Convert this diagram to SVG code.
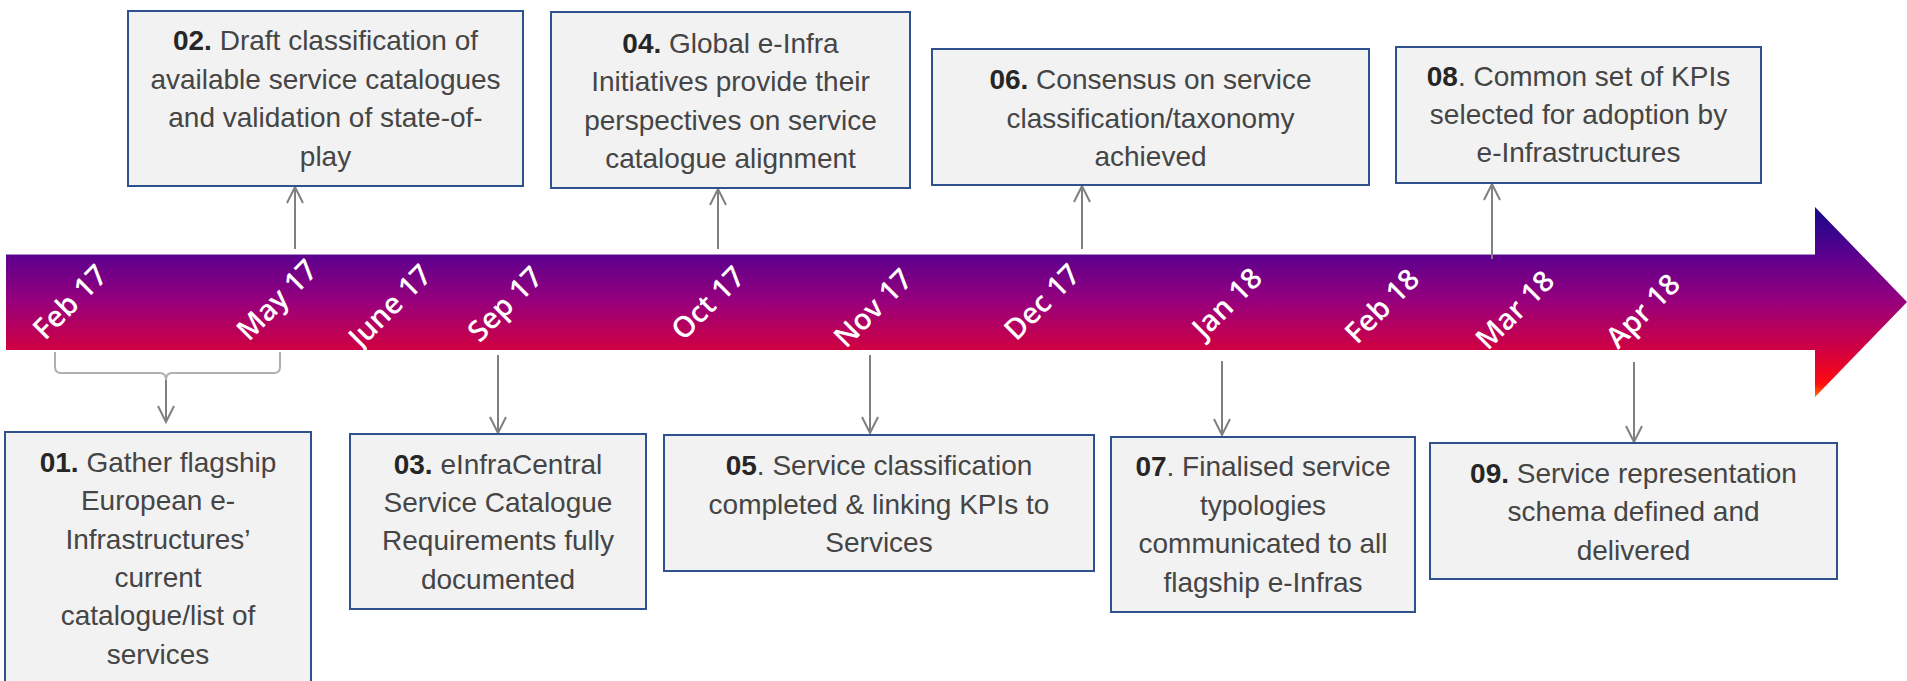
<svg xmlns="http://www.w3.org/2000/svg" width="1907" height="681" viewBox="0 0 1907 681">
  <style>
    .box { fill: #f2f2f2; stroke: #2f528f; stroke-width: 2; }
    .txt { font-family: "Liberation Sans", Arial, sans-serif; font-size: 28px; fill: #454545; text-anchor: middle; }
    .num { font-weight: bold; fill: #262626; }
    .date { font-family: "Open Sans", "Noto Sans", sans-serif; font-size: 29px; font-weight: 600; fill: #ffffff; text-anchor: middle; }
    .conn { stroke: #808080; stroke-width: 2; fill: none; }
    .brace { stroke: #b0b0b0; stroke-width: 2; fill: none; }
  </style>
  <defs>
    <linearGradient id="timelineFill" gradientUnits="userSpaceOnUse" x1="0" y1="207" x2="0" y2="397">
      <stop offset="0" stop-color="#140a8a"/>
      <stop offset="0.247" stop-color="#5a008e"/>
      <stop offset="0.5" stop-color="#98007c"/>
      <stop offset="0.75" stop-color="#d00042"/>
      <stop offset="0.93" stop-color="#ff0a10"/>
      <stop offset="1" stop-color="#ff7000"/>
    </linearGradient>
    <marker id="openHead" viewBox="0 0 20 20" refX="18" refY="10" markerWidth="20" markerHeight="20" markerUnits="userSpaceOnUse" orient="auto">
      <path d="M2,2 L18,10 L2,18" fill="none" stroke="#808080" stroke-width="2"/>
    </marker>
  </defs>

  <!-- timeline arrow -->
  <g id="timeline">
    <path d="M6,254 H1815 V207 L1907,302 L1815,397 V350 H6 Z" fill="url(#timelineFill)"/>
    <line x1="6" y1="254.5" x2="1815" y2="254.5" stroke="#a58cc8" stroke-width="1"/>
    <g class="date">
      <text transform="translate(70,302) rotate(-45)" y="10">Feb 17</text>
      <text transform="translate(277,300) rotate(-45)" y="10">May 17</text>
      <text transform="translate(390,306) rotate(-45)" y="10">June 17</text>
      <text transform="translate(505,304) rotate(-45)" y="10">Sep 17</text>
      <text transform="translate(708,303) rotate(-45)" y="10">Oct 17</text>
      <text transform="translate(873,308) rotate(-45)" y="10">Nov 17</text>
      <text transform="translate(1042,302) rotate(-45)" y="10">Dec 17</text>
      <text transform="translate(1227,303) rotate(-45)" y="10">Jan 18</text>
      <text transform="translate(1382,306) rotate(-45)" y="10">Feb 18</text>
      <text transform="translate(1515,310) rotate(-45)" y="10">Mar 18</text>
      <text transform="translate(1643,311) rotate(-45)" y="10">Apr 18</text>
    </g>
  </g>

  <!-- connectors -->
  <g id="connectors">
    <path class="brace" d="M55,352 V367 Q55,373 61,373 H160 Q166,373 166,380 Q166,373 172,373 H274 Q280,373 280,367 V352"/>
    <line class="conn" x1="166" y1="380" x2="166" y2="422" marker-end="url(#openHead)"/>
    <line class="conn" x1="295" y1="249" x2="295" y2="187" marker-end="url(#openHead)"/>
    <line class="conn" x1="718" y1="249" x2="718" y2="189" marker-end="url(#openHead)"/>
    <line class="conn" x1="1082" y1="249" x2="1082" y2="186" marker-end="url(#openHead)"/>
    <line class="conn" x1="1492" y1="259" x2="1492" y2="184" marker-end="url(#openHead)"/>
    <line class="conn" x1="498" y1="355" x2="498" y2="433" marker-end="url(#openHead)"/>
    <line class="conn" x1="870" y1="355" x2="870" y2="433" marker-end="url(#openHead)"/>
    <line class="conn" x1="1222" y1="361" x2="1222" y2="435" marker-end="url(#openHead)"/>
    <line class="conn" x1="1634" y1="362" x2="1634" y2="442" marker-end="url(#openHead)"/>
  </g>

  <g id="node01">
    <rect class="box" x="5" y="432" width="306" height="262"/>
    <text class="txt" x="158" y="472"><tspan class="num">01.</tspan> Gather flagship</text>
    <text class="txt" x="158" y="510">European e-</text>
    <text class="txt" x="158" y="548.5">Infrastructures’</text>
    <text class="txt" x="158" y="587">current</text>
    <text class="txt" x="158" y="625">catalogue/list of</text>
    <text class="txt" x="158" y="663.5">services</text>
  </g>

  <g id="node02">
    <rect class="box" x="128" y="11" width="395" height="175"/>
    <text class="txt" x="325.5" y="50"><tspan class="num">02.</tspan> Draft classification of</text>
    <text class="txt" x="325.5" y="88.5">available service catalogues</text>
    <text class="txt" x="325.5" y="127">and validation of state-of-</text>
    <text class="txt" x="325.5" y="165.5">play</text>
  </g>

  <g id="node03">
    <rect class="box" x="350" y="434" width="296" height="175"/>
    <text class="txt" x="498" y="474"><tspan class="num">03.</tspan> eInfraCentral</text>
    <text class="txt" x="498" y="512">Service Catalogue</text>
    <text class="txt" x="498" y="550">Requirements fully</text>
    <text class="txt" x="498" y="588.5">documented</text>
  </g>

  <g id="node04">
    <rect class="box" x="551" y="12" width="359" height="176"/>
    <text class="txt" x="730.5" y="53"><tspan class="num">04.</tspan> Global e-Infra</text>
    <text class="txt" x="730.5" y="91.3">Initiatives provide their</text>
    <text class="txt" x="730.5" y="129.6">perspectives on service</text>
    <text class="txt" x="730.5" y="168">catalogue alignment</text>
  </g>

  <g id="node05">
    <rect class="box" x="664" y="435" width="430" height="136"/>
    <text class="txt" x="879" y="475"><tspan class="num">05</tspan>. Service classification</text>
    <text class="txt" x="879" y="513.5">completed &amp; linking KPIs to</text>
    <text class="txt" x="879" y="552">Services</text>
  </g>

  <g id="node06">
    <rect class="box" x="932" y="49" width="437" height="136"/>
    <text class="txt" x="1150.5" y="89"><tspan class="num">06.</tspan> Consensus on service</text>
    <text class="txt" x="1150.5" y="127.5">classification/taxonomy</text>
    <text class="txt" x="1150.5" y="166">achieved</text>
  </g>

  <g id="node07">
    <rect class="box" x="1111" y="437" width="304" height="175"/>
    <text class="txt" x="1263" y="476"><tspan class="num">07</tspan>. Finalised service</text>
    <text class="txt" x="1263" y="514.5">typologies</text>
    <text class="txt" x="1263" y="553">communicated to all</text>
    <text class="txt" x="1263" y="591.5">flagship e-Infras</text>
  </g>

  <g id="node08">
    <rect class="box" x="1396" y="47" width="365" height="136"/>
    <text class="txt" x="1578.5" y="86"><tspan class="num">08</tspan>. Common set of KPIs</text>
    <text class="txt" x="1578.5" y="124">selected for adoption by</text>
    <text class="txt" x="1578.5" y="162">e-Infrastructures</text>
  </g>

  <g id="node09">
    <rect class="box" x="1430" y="443" width="407" height="136"/>
    <text class="txt" x="1633.5" y="483"><tspan class="num">09.</tspan> Service representation</text>
    <text class="txt" x="1633.5" y="521">schema defined and</text>
    <text class="txt" x="1633.5" y="559.5">delivered</text>
  </g>
</svg>
